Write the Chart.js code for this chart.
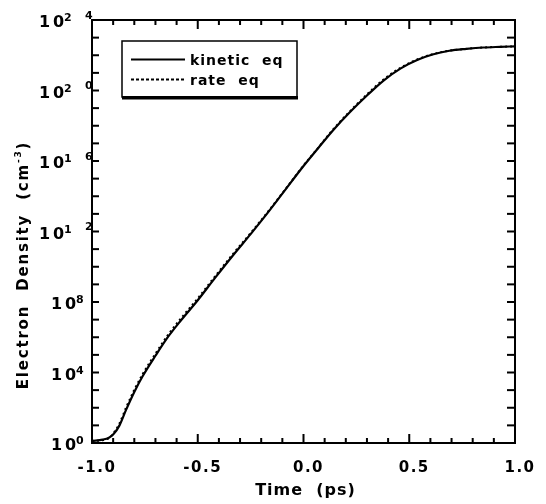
<!DOCTYPE html>
<html>
<head>
<meta charset="utf-8">
<script src="https://cdn.jsdelivr.net/npm/chart.js@4"></script>
<style>
  html, body { margin: 0; padding: 0; background: #fff; }
  canvas { display: block; }
</style>
</head>
<body>
<canvas id="chart" width="546" height="504"></canvas>
<script>
// Electron density vs time — kinetic vs rate equation

const timePs = [-1.0, -0.95, -0.92, -0.90, -0.87, -0.84, -0.80, -0.76, -0.70, -0.64, -0.58, -0.50, -0.42, -0.33, -0.25, -0.18, -0.10, 0.0, 0.07, 0.14, 0.22, 0.30, 0.38, 0.46, 0.54, 0.61, 0.69, 0.77, 0.85, 0.93, 1.0];
const kineticDensity = [1.3, 1.55, 2.0, 3.0, 1.0e1, 7.1e1, 7.9e2, 6.3e3, 8.9e4, 1.07e6, 8.9e6, 1.26e8, 2.2e9, 5.0e10, 7.1e11, 7.9e12, 1.4e14, 5.2e15, 5.5e16, 5.6e17, 6.0e18, 5.2e19, 3.8e20, 1.8e21, 5.5e21, 1.1e22, 1.8e22, 2.3e22, 2.75e22, 3.0e22, 3.2e22];
const rateDensity = [1.3, 1.45, 1.9, 3.4, 1.3e1, 9.5e1, 1.05e3, 8.3e3, 1.17e5, 1.4e6, 1.15e7, 1.6e8, 2.7e9, 6.0e10, 8.2e11, 8.8e12, 1.5e14, 5.5e15, 5.8e16, 6.2e17, 6.8e18, 6.0e19, 4.4e20, 2.0e21, 5.9e21, 1.15e22, 1.82e22, 2.3e22, 2.75e22, 3.0e22, 3.2e22];

const xTickLabels = ['-1.0', '-0.5', '0.0', '0.5', '1.0'];
const xTickValues = [-1.0, -0.5, 0.0, 0.5, 1.0];
const xMinorStep = 0.1;
const yTickValues = [1, 1e4, 1e8, 1e12, 1e16, 1e20, 1e24];
const yTickExponents = ['0', '4', '8', '12', '16', '20', '24'];
const yMinorValues = [1, 1e1, 1e2, 1e3, 1e4, 1e5, 1e6, 1e7, 1e8, 1e9, 1e10, 1e11, 1e12, 1e13, 1e14, 1e15, 1e16, 1e17, 1e18, 1e19, 1e20, 1e21, 1e22, 1e23, 1e24];

const seriesNames = ['kinetic  eq', 'rate  eq'];
const FONT = '"DejaVu Sans", sans-serif';

const framePlugin = {
  id: 'frame',
  afterDraw(chart) {
    const ctx = chart.ctx;
    const { left, right, top, bottom } = chart.chartArea;
    const xs = chart.scales.x, ys = chart.scales.y;
    ctx.save();
    ctx.setLineDash([]);
    ctx.strokeStyle = '#000';
    ctx.fillStyle = '#000';

    // frame
    ctx.lineWidth = 2;
    ctx.strokeRect(left, top, right - left, bottom - top);

    // x ticks, top and bottom, pointing in
    for (let i = 0; i <= 20; i++) {
      const v = xs.min + i * xMinorStep;
      const px = xs.getPixelForValue(v);
      const len = i % 5 === 0 ? 9 : 5;
      ctx.fillRect(px - 1, bottom - len, 2, len);
      ctx.fillRect(px - 1, top, 2, len);
    }
    // y ticks, left and right
    yMinorValues.forEach(v => {
      const py = ys.getPixelForValue(v);
      ctx.fillRect(left, py - 1, 7, 2);
      ctx.fillRect(right - 8, py - 1, 8, 2);
    });

    // x tick labels
    ctx.font = 'bold 15px ' + FONT;
    ctx.letterSpacing = '1.5px';
    ctx.textAlign = 'center';
    ctx.textBaseline = 'alphabetic';
    xTickValues.forEach((v, i) => {
      ctx.fillText(xTickLabels[i], xs.getPixelForValue(v) + 5, 472);
    });

    // y tick labels: "1 0" with raised exponent
    ctx.letterSpacing = '0px';
    ctx.textAlign = 'left';
    yTickValues.forEach((v, i) => {
      const py = ys.getPixelForValue(v);
      const ex = yTickExponents[i];
      const x0 = ex.length === 1 ? 54 : 42;
      ctx.font = 'bold 16px ' + FONT;
      ctx.fillText('1', x0 - 3, py + 7);
      ctx.fillText('0', x0 + 11, py + 7);
      ctx.font = 'bold 11px ' + FONT;
      ctx.fillText(ex[0], x0 + 22, py + 1);
      if (ex.length > 1) ctx.fillText(ex[1], 85, py - 1.5);
    });

    // x title
    ctx.font = 'bold 16px ' + FONT;
    ctx.letterSpacing = '1px';
    ctx.textAlign = 'center';
    ctx.fillText('Time  (ps)', (left + right) / 2 + 2, 495);

    // y title, rotated
    ctx.save();
    ctx.translate(28, 265);
    ctx.rotate(-Math.PI / 2);
    ctx.textAlign = 'left';
    ctx.letterSpacing = '1.8px';
    const main = 'Electron  Density  (cm';
    ctx.font = 'bold 15px ' + FONT;
    const wMain = ctx.measureText(main).width;
    ctx.font = 'bold 9px ' + FONT;
    const wSup = ctx.measureText('-3').width;
    ctx.font = 'bold 15px ' + FONT;
    const wEnd = ctx.measureText(')').width;
    let x = -(wMain + wSup + wEnd) / 2;
    ctx.fillText(main, x, 0);
    x += wMain;
    ctx.font = 'bold 9px ' + FONT;
    ctx.fillText('-3', x, -7);
    x += wSup;
    ctx.font = 'bold 15px ' + FONT;
    ctx.fillText(')', x, 0);
    ctx.restore();

    // legend box with drop shadow
    ctx.letterSpacing = '1px';
    ctx.lineWidth = 1.5;
    ctx.strokeRect(122, 41, 175, 56);
    ctx.fillRect(122, 96, 176, 3.5);
    ctx.fillRect(131, 58.5, 54, 2);
    for (let dx = 131; dx < 185; dx += 5) ctx.fillRect(dx, 78.5, 3, 2);
    ctx.font = 'bold 14px ' + FONT;
    ctx.textAlign = 'left';
    ctx.fillText(seriesNames[0], 190, 64.5);
    ctx.fillText(seriesNames[1], 190, 84.5);
    ctx.restore();
  }
};

new Chart(document.getElementById('chart'), {
  type: 'line',
  data: {
    datasets: [{
      label: seriesNames[0],
      data: timePs.map((t, i) => ({ x: t, y: kineticDensity[i] })),
      borderColor: '#000',
      borderWidth: 2.2,
      pointRadius: 0,
      cubicInterpolationMode: 'monotone',
      fill: false,
    }, {
      label: seriesNames[1],
      data: timePs.map((t, i) => ({ x: t, y: rateDensity[i] })),
      borderColor: '#000',
      borderWidth: 2,
      borderDash: [2, 3],
      pointRadius: 0,
      cubicInterpolationMode: 'monotone',
      fill: false,
    }],
  },
  options: {
    responsive: false,
    animation: false,
    layout: { padding: { left: 92, right: 31, top: 20, bottom: 61 } },
    plugins: { legend: { display: false }, tooltip: { enabled: false } },
    scales: {
      x: { type: 'linear', min: -1, max: 1, display: false },
      y: { type: 'logarithmic', min: 1, max: 1e24, display: false },
    },
  },
  plugins: [framePlugin],
});
</script>
</body>
</html>
